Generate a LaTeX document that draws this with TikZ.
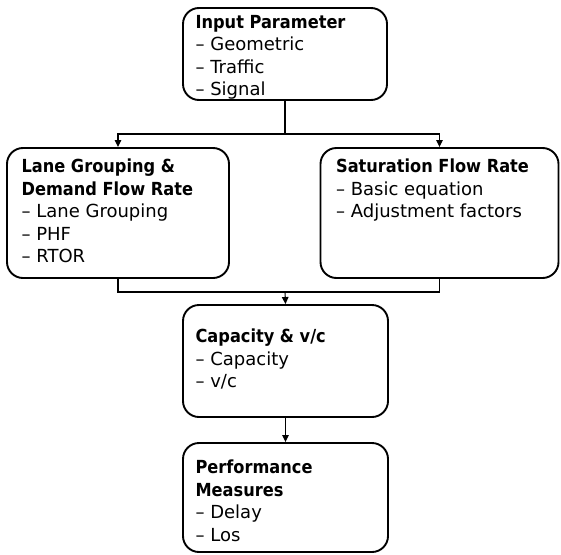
\documentclass[tikz,border=0pt]{standalone}
\usepackage{fontspec}
\setmainfont{DejaVu Sans}
\newfontfamily\headfont{DejaVu Sans Condensed}
\usetikzlibrary{arrows.meta, positioning, calc}
\tikzset{
  every picture/.style={line width=1.1pt},
  stage/.style={draw, line width=1.9pt, rounded corners=16pt, inner sep=0pt},
  flow/.style={-{Triangle[length=7pt, width=6.5pt]}},
  lines/.style={anchor=north west, inner sep=0pt, align=left, font=\fontsize{18}{22.5}\selectfont},
}
\newcommand{\head}[1]{{\headfont\bfseries #1}}

\begin{document}
\begin{tikzpicture}[x=1pt, y=-1pt]
  \useasboundingbox (0,0) rectangle (561,554);
  % the five stages
  \node[stage, minimum width=204pt, minimum height=92pt] (input) at (285,54) {};
  \node[stage, minimum width=222pt, minimum height=130pt] (lane) at (118,213) {};
  \node[stage, minimum width=238pt, minimum height=130pt] (sat) at (439.5,213) {};
  \node[stage, minimum width=205pt, minimum height=112pt] (cap) at (285.5,361) {};
  \node[stage, minimum width=205pt, minimum height=109pt] (perf) at (285.5,497.5) {};
  % their contents
  \node[lines] (input-txt) at ($(input.north west)+(13,7.5)$)
    {\head{Input Parameter}\\-- Geometric\\-- Traffic\\-- Signal};
  \node[lines] (lane-txt) at ($(lane.north west)+(15,11.5)$)
    {\head{Lane Grouping \&}\\\head{Demand Flow Rate}\\-- Lane Grouping\\-- PHF\\-- RTOR};
  \node[lines] (sat-txt) at ($(sat.north west)+(16,11.5)$)
    {\head{Saturation Flow Rate}\\-- Basic equation\\-- Adjustment factors};
  \node[lines] (cap-txt) at ($(cap.north west)+(13,24.5)$)
    {\head{Capacity \& v/c}\\-- Capacity\\-- v/c};
  \node[lines] (perf-txt) at ($(perf.north west)+(13,17.5)$)
    {\head{Performance}\\\head{Measures}\\-- Delay\\-- Los};
  % connectors
  \coordinate (split) at (285,134);
  \coordinate (join) at (285,292);
  \draw (input.south) -- (split);
  \draw[flow] (split) -| (lane.north);
  \draw[flow] (split) -| (sat.north);
  \draw (lane.south) |- (join) -| (sat.south);
  \draw[flow] (join) -- (cap.north);
  \draw[flow] (cap.south) -- (perf.north);
\end{tikzpicture}
\end{document}
